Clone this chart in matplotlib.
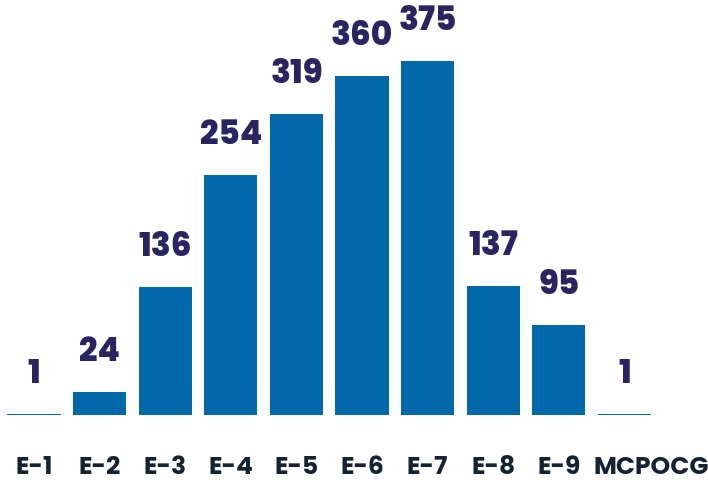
import matplotlib
matplotlib.use("Agg")
import matplotlib.pyplot as plt

categories = ["E-1", "E-2", "E-3", "E-4", "E-5", "E-6", "E-7", "E-8", "E-9", "MCPOCG"]
values = [1, 24, 136, 254, 319, 360, 375, 137, 95, 1]

BAR = "#0068a8"
LABEL = "#2a2462"
TICK = "#132333"

fig = plt.figure(figsize=(7.08, 4.85), dpi=100)
ax = fig.add_axes([0, 0, 1, 1])
x = list(range(len(categories)))
ax.bar(x, values, width=0.81, color=BAR)

pxu = 65.6
ax.set_xlim(-34 / pxu, 9 + (708 - 624.5) / pxu)
ypx = 0.943
ax.set_ylim(-69 / ypx, 416 / ypx)
ax.axis("off")

for xi, v, c in zip(x, values, categories):
    ax.annotate(str(v), (xi, v), xytext=(0, 23), textcoords="offset pixels",
                ha="center", va="bottom", fontsize=23.5, fontweight=800,
                family="Poppins", color=LABEL)
    dx = 27 if xi == len(categories) - 1 else 0
    ax.annotate(c, (xi, 0), xytext=(dx, -53), textcoords="offset pixels",
                ha="center", va="center", fontsize=18, fontweight="bold",
                family="Poppins", color=TICK)

fig.savefig("out.png", dpi=100)
